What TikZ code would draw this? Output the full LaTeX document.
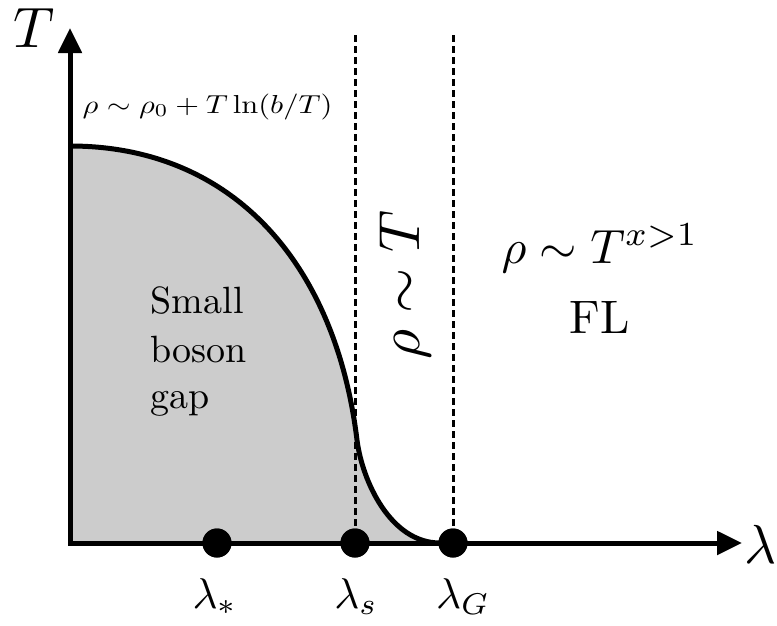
\documentclass[tikz,border=0pt]{standalone}
\usetikzlibrary{arrows.meta}
\definecolor{gapgray}{RGB}{204,204,204}
\begin{document}
\begin{tikzpicture}[x=1pt,y=-1pt,
  axis/.style={line width=5pt, line join=miter, {Triangle[length=25pt,width=23pt]}-{Triangle[length=25pt,width=23pt]}},
  guide/.style={line width=3pt, dash pattern=on 7pt off 4pt},
  phase/.style={line width=5pt},
  dot/.style={circle, fill=black, inner sep=0pt, minimum size=29pt},
  lbl/.style={inner sep=0pt}]
\useasboundingbox (0,0) rectangle (777,625);
% coordinates
\coordinate (O) at (70,543);
\coordinate (Ttip) at (70,28);
\coordinate (Ltip) at (742,543);
\coordinate (C0) at (70,146);
\coordinate (Cm) at (357,440);
\coordinate (C1) at (440,543);
% shaded region
\fill[gapgray] (O) -- (C0) .. controls (230,146) and (335,260) .. (Cm)
  .. controls (362,480) and (390,543) .. (C1) -- cycle;
% dots
\node[dot] (ls) at (355,543) {};
\node[dot] (lst) at (217,543) {};
\node[dot] (lG) at (453,543) {};
% dashed guides
\coordinate (sTop) at (355,35);
\coordinate (GTop) at (453,35);
\draw[guide] (sTop) -- (ls);
\draw[guide] (GTop) -- (lG);
% boundary curve
\draw[phase] (C0) .. controls (230,146) and (335,260) .. (Cm)
  .. controls (362,480) and (390,543) .. (C1);
% axes
\draw[axis] (Ttip) -- (O) -- (Ltip);
\node[dot] at (ls) {};
\node[dot] at (lst) {};
\node[dot] at (lG) {};
% labels
\node[lbl, anchor=base west, scale=5.7] (Tlab) at (12,47) {$T$};
\node[lbl, anchor=base west, scale=5.5] (Llab) at (743,563) {$\lambda$};
\node[lbl, anchor=base west, xscale=3.05, yscale=2.6] (rho0) at (82,113) {$\rho\sim\rho_0+T\ln(b/T)$};
\node[lbl, anchor=base west, scale=3.8] (sm1) at (150,313) {Small};
\node[lbl, anchor=base west, scale=3.8] (sm2) at (150,362) {boson};
\node[lbl, anchor=base west, scale=3.8] (sm3) at (150,408) {gap};
\node[lbl, anchor=base, rotate=90, scale=5.8] (rhoT) at (419,285) {$\rho\sim T$};
\node[lbl, anchor=base, scale=4.8] (rhoFL) at (600,263) {$\rho\sim T^{x>1}$};
\node[lbl, anchor=base, scale=4.7] (FL) at (600,333) {FL};
\node[lbl, anchor=base, scale=4.3] (lstl) at (215,608) {$\lambda_*$};
\node[lbl, anchor=base, scale=4.3] (lsl) at (356,608) {$\lambda_s$};
\node[lbl, anchor=base, scale=4.3] (lGl) at (463,608) {$\lambda_G$};
\end{tikzpicture}
\end{document}
